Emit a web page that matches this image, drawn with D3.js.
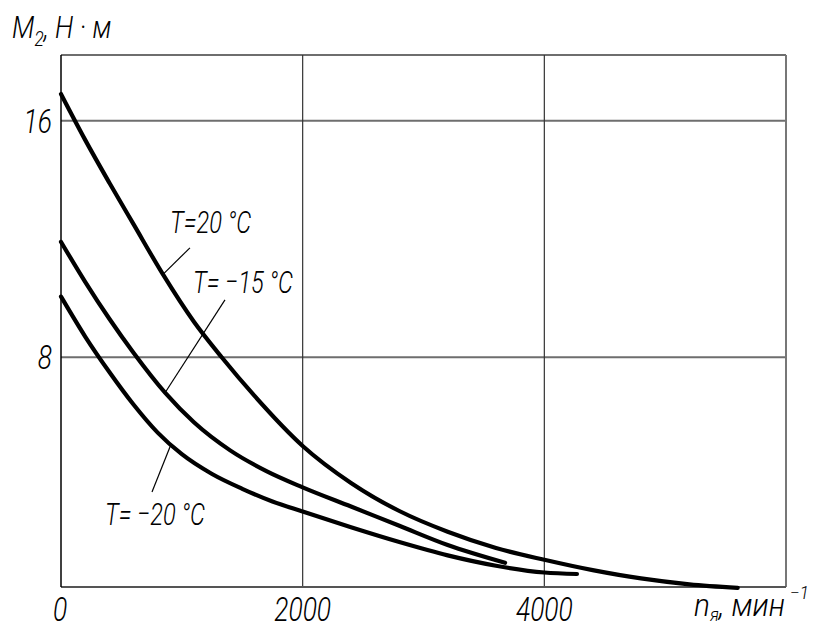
<!DOCTYPE html>
<html>
<head>
<meta charset="utf-8">
<script src="https://cdn.jsdelivr.net/npm/d3@7"></script>
<style>
  body { margin: 0; background: #fff; }
  svg { display: block; }
</style>
</head>
<body>
<svg id="chart"></svg>
<script>
// speed, rpm  /  torque, N·m
const speed20  = [0, 200, 400, 600, 844, 1100, 1330, 1600, 2000, 2400, 2800, 3200, 3600, 4000, 4400, 4800, 5200, 5600];
const torque20 = [16.9, 15.35, 13.9, 12.5, 10.8, 9.2, 8.0, 6.7, 5.0, 3.75, 2.8, 2.1, 1.55, 1.15, 0.8, 0.52, 0.32, 0.2];

const speed15  = [0, 200, 400, 600, 861, 1100, 1400, 1700, 2000, 2400, 2800, 3200, 3675];
const torque15 = [11.9, 10.55, 9.3, 8.15, 6.8, 5.8, 4.85, 4.15, 3.6, 2.95, 2.3, 1.65, 1.05];

const speed20m  = [0, 200, 400, 600, 800, 1000, 1250, 1500, 1750, 2000, 2400, 2800, 3200, 3600, 4000, 4270];
const torque20m = [10.05, 8.7, 7.5, 6.4, 5.45, 4.72, 4.05, 3.55, 3.12, 2.78, 2.25, 1.75, 1.3, 0.95, 0.72, 0.67];

const xTicks = [0, 2000, 4000];
const yTicks = [8, 16];

const width = 815, height = 628;

const svg = d3.select("#chart")
  .attr("width", width)
  .attr("height", height);

svg.append("rect").attr("width", width).attr("height", height).attr("fill", "#fff");

const x = d3.scaleLinear().domain([0, 6000]).range([61, 786]);
const y = d3.scaleLinear().domain([0.23, 18.22]).range([587, 55]);

const font = "Roboto, 'DejaVu Sans', sans-serif";

function label(px, py, sx, size, anchor) {
  return svg.append("text")
    .attr("transform", "translate(" + px + "," + py + ") scale(" + sx + ",1)")
    .attr("text-anchor", anchor || "start")
    .style("font-family", font)
    .style("font-size", size + "px")
    .style("font-style", "italic")
    .style("font-weight", 300)
    .attr("fill", "#000");
}

// grid + frame
svg.selectAll(".hgrid")
  .data(yTicks.concat([18.22]))
  .enter().append("line")
  .attr("x1", x(0)).attr("x2", x(6000))
  .attr("y1", d => y(d)).attr("y2", d => y(d))
  .attr("stroke", "#6e6e6e").attr("stroke-width", 2);

svg.selectAll(".vgrid")
  .data(xTicks.slice(1))
  .enter().append("line")
  .attr("x1", d => x(d)).attr("x2", d => x(d))
  .attr("y1", y(18.22)).attr("y2", y(0.23))
  .attr("stroke", "#333").attr("stroke-width", 1.2);

svg.append("line") // right
  .attr("x1", x(6000)).attr("x2", x(6000))
  .attr("y1", y(18.22)).attr("y2", y(0.23))
  .attr("stroke", "#777").attr("stroke-width", 2);

svg.append("line") // bottom
  .attr("x1", x(0)).attr("x2", x(6000))
  .attr("y1", y(0.23)).attr("y2", y(0.23))
  .attr("stroke", "#555").attr("stroke-width", 2);

svg.append("line") // left axis
  .attr("x1", x(0)).attr("x2", x(0))
  .attr("y1", y(18.22)).attr("y2", y(0.23))
  .attr("stroke", "#000").attr("stroke-width", 1.5);

// tick labels
xTicks.forEach(d => {
  label(x(d) + (d === 0 ? -1 : 0), 621, 0.8, 33, "middle").text(d);
});
yTicks.forEach(d => {
  label(52, y(d) + 12, 0.8, 33, "end").text(d);
});

// axis titles
const yt = label(12, 38, 0.86, 31);
yt.append("tspan").text("M");
yt.append("tspan").attr("dy", 8).style("font-size", "20px").text("2");
yt.append("tspan").attr("dy", -8).text(", Н · м");

const xt = label(694, 616, 0.93, 32);
xt.append("tspan").text("n");
xt.append("tspan").attr("dy", 5).style("font-size", "18px").text("я");
xt.append("tspan").attr("dy", -5).text(", мин");
xt.append("tspan").attr("dy", -17).attr("dx", 5).style("font-size", "19px").text("−1");

// curves
const line = d3.line()
  .x(d => x(d[0]))
  .y(d => y(d[1]))
  .curve(d3.curveMonotoneX);

[[speed20, torque20], [speed15, torque15], [speed20m, torque20m]].forEach(s => {
  svg.append("path")
    .datum(d3.zip(s[0], s[1]))
    .attr("d", line)
    .attr("fill", "none")
    .attr("stroke", "#000")
    .attr("stroke-width", 4.2)
    .attr("stroke-linecap", "round")
    .attr("stroke-linejoin", "round");
});

// leaders: [from speed, from torque, to speed, to torque]
const leaders = [
  [1067, 11.7, 844, 10.8],
  [1357, 9.94, 861, 6.8],
  [753, 3.44, 910, 5.05]
];
svg.selectAll(".leader")
  .data(leaders)
  .enter().append("line")
  .attr("x1", d => x(d[0])).attr("y1", d => y(d[1]))
  .attr("x2", d => x(d[2])).attr("y2", d => y(d[3]))
  .attr("stroke", "#000").attr("stroke-width", 1.2);

label(170, 233, 0.74, 32).text("T=20 °C");
label(193, 293, 0.74, 32).text("T= −15 °C");
label(105, 525, 0.74, 32).text("T= −20 °C");
</script>
</body>
</html>
